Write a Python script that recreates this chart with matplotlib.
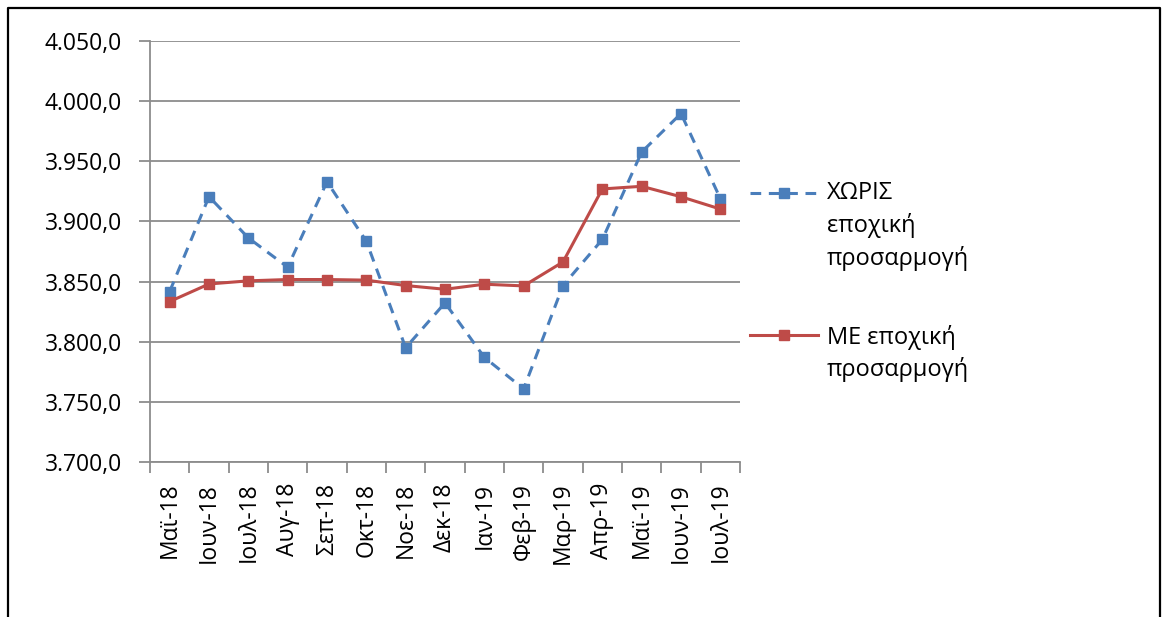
import matplotlib
matplotlib.use("Agg")
import matplotlib.pyplot as plt
from matplotlib.lines import Line2D
import numpy as np

categories = ["Μαϊ-18", "Ιουν-18", "Ιουλ-18", "Αυγ-18", "Σεπ-18", "Οκτ-18", "Νοε-18",
              "Δεκ-18", "Ιαν-19", "Φεβ-19", "Μαρ-19", "Απρ-19", "Μαϊ-19", "Ιουν-19", "Ιουλ-19"]
without_sa = [3841.7, 3920.6, 3886.3, 3862.0, 3933.0, 3883.5, 3795.0,
              3832.3, 3787.0, 3760.8, 3846.7, 3885.0, 3957.7, 3989.7, 3919.0]
with_sa = [3833.4, 3848.0, 3850.6, 3851.7, 3851.7, 3851.2, 3846.7,
           3843.6, 3847.8, 3846.4, 3866.3, 3927.0, 3929.2, 3920.5, 3910.3]
label_without = ["ΧΩΡΙΣ", "εποχική", "προσαρμογή"]
label_with = ["ΜΕ εποχική", "προσαρμογή"]
yticks = [3700, 3750, 3800, 3850, 3900, 3950, 4000, 4050]

plt.rcParams['font.family'] = ['Open Sans', 'DejaVu Sans']

W, H = 1168, 617
fig = plt.figure(figsize=(W / 100, H / 100), dpi=100)
ax = fig.add_axes([150 / W, 1 - 462 / H, (740 - 150) / W, (462 - 41) / H])

blue = "#4A7EBB"
red = "#BE4B48"
grid_c = "#8C8C8C"
fs = 16.5

x = np.arange(len(categories))
ax.plot(x, without_sa, color=blue, lw=2.2, ls=(0, (3.5, 2.5)), marker="s", ms=7.5,
        markerfacecolor=blue, markeredgecolor=blue, zorder=3)
ax.plot(x, with_sa, color=red, lw=2.2, ls="-", marker="s", ms=7.5,
        markerfacecolor=red, markeredgecolor=red, zorder=4)

ax.set_xlim(-0.5, len(categories) - 0.5)
ax.set_ylim(3700, 4050)
ax.set_yticks(yticks)
ax.set_yticklabels([f"{v:,.1f}".replace(",", "X").replace(".", ",").replace("X", ".") for v in yticks],
                   fontsize=fs)
ax.yaxis.grid(True, color=grid_c, lw=1.3)
ax.set_axisbelow(True)

ax.set_xticks(np.arange(-0.5, len(categories), 1.0))
ax.set_xticklabels([])
ax.set_xticks(x, minor=True)
ax.set_xticklabels(categories, minor=True, rotation=90, fontsize=fs)
ax.tick_params(axis="x", which="major", length=8, color=grid_c, width=1.3, direction="out")
ax.tick_params(axis="x", which="minor", length=0, pad=15)
ax.tick_params(axis="y", length=8, color=grid_c, width=1.3, direction="out", pad=12)

for s in ["top", "right"]:
    ax.spines[s].set_visible(False)
for s in ["left", "bottom"]:
    ax.spines[s].set_color(grid_c)
    ax.spines[s].set_linewidth(1.3)

# legend
def fx(px):
    return px / W

def fy(py):
    return 1 - py / H

fig.add_artist(Line2D([fx(750), fx(818)], [fy(193), fy(193)], color=blue, lw=2.2,
                      ls=(0, (3.5, 2.5))))
fig.add_artist(Line2D([fx(784)], [fy(193)], color=blue, marker="s", ms=7.5, ls="none"))
for i, t in enumerate(label_without):
    fig.text(fx(827), fy(193 + 32.5 * i), t, fontsize=17, va="center", ha="left")
fig.add_artist(Line2D([fx(750), fx(818)], [fy(335), fy(335)], color=red, lw=2.2))
fig.add_artist(Line2D([fx(784)], [fy(335)], color=red, marker="s", ms=7.5, ls="none"))
for i, t in enumerate(label_with):
    fig.text(fx(827), fy(337 + 32.5 * i), t, fontsize=17, va="center", ha="left")

# outer frame
fig.add_artist(Line2D([fx(8), fx(8), fx(1160), fx(1160)], [0, fy(8), fy(8), 0],
                      color="black", lw=1.6))

fig.savefig("out.png", dpi=100)
